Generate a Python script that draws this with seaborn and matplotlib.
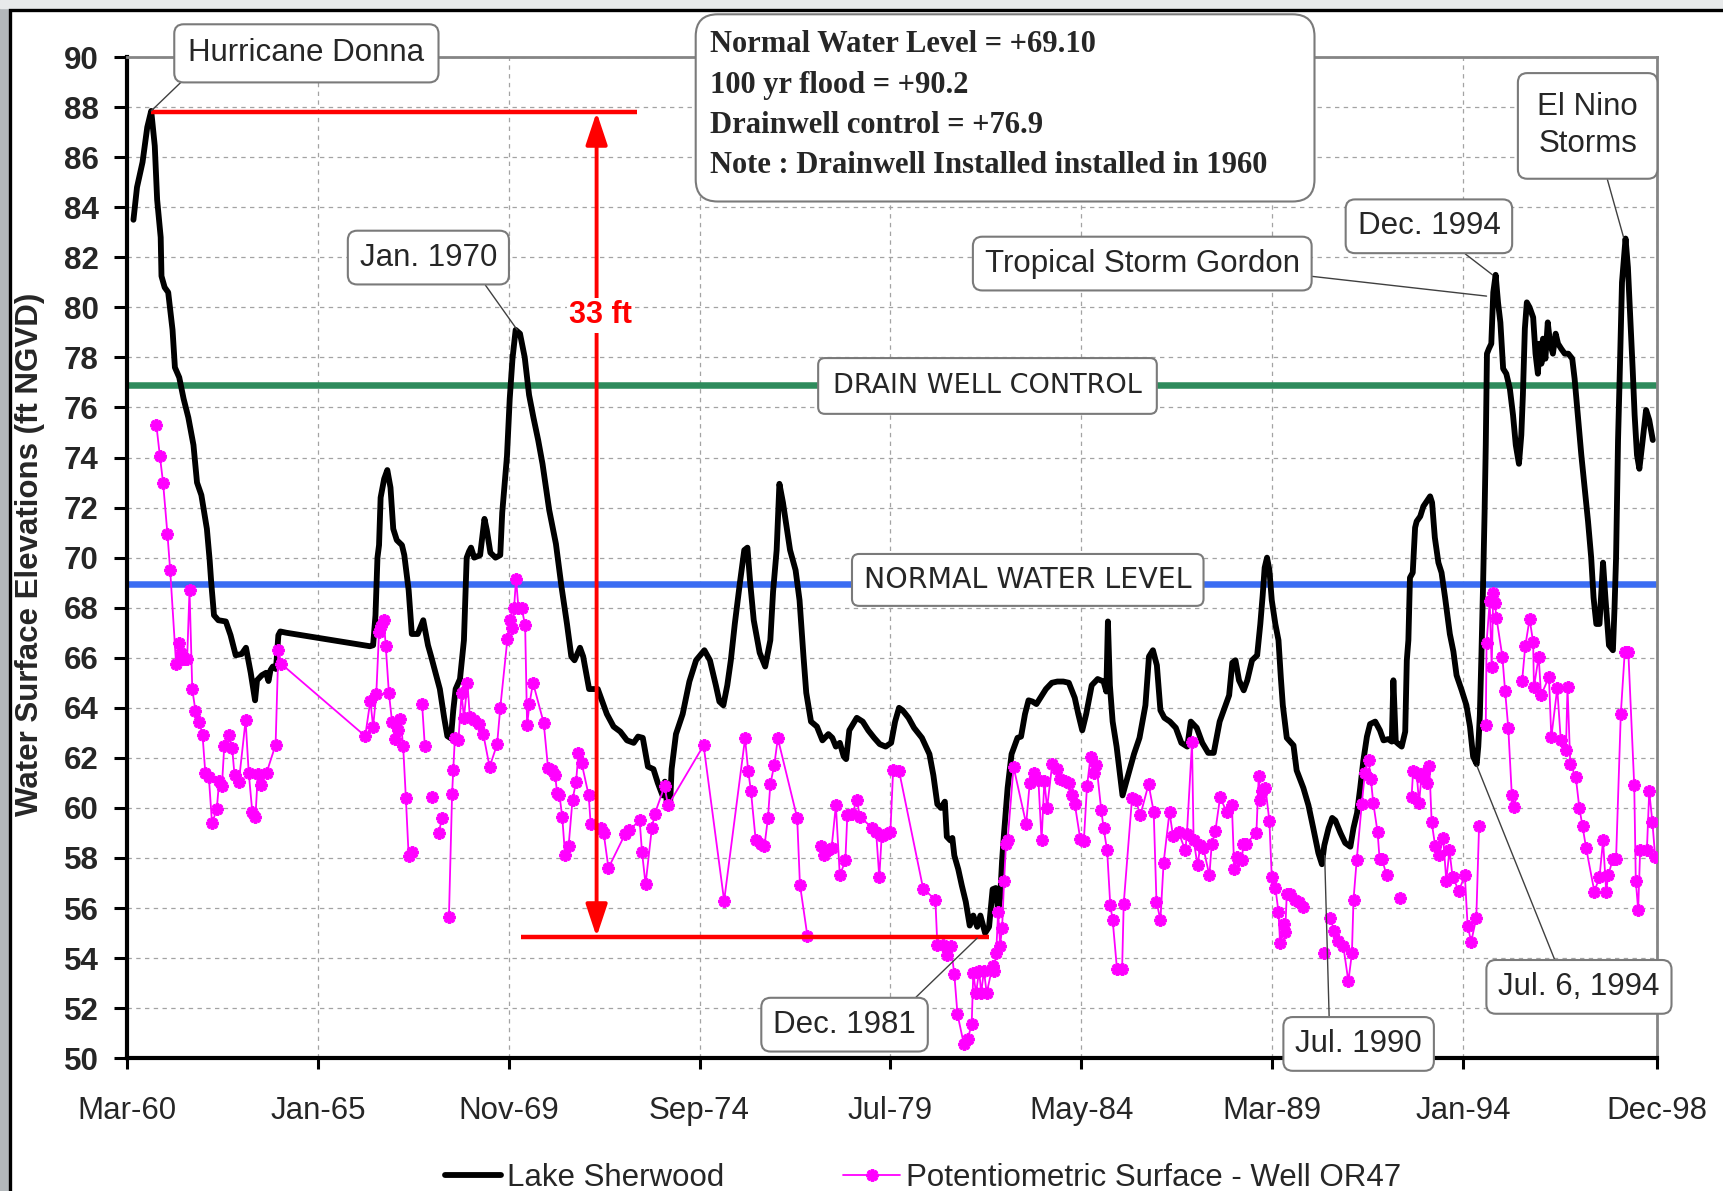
import numpy as np
import pandas as pd
import matplotlib
matplotlib.use("Agg")
import matplotlib.pyplot as plt
import seaborn as sns
from matplotlib.patches import FancyBboxPatch, Rectangle
from matplotlib.lines import Line2D

# ---------------------------------------------------------------- data
LAKE_YEARS = [
    1960.33, 1960.42, 1960.56, 1960.68, 1960.78, 1960.87, 1960.93, 1961.02, 1961.04, 1961.12,
    1961.21, 1961.32, 1961.38, 1961.49, 1961.60, 1961.72, 1961.85, 1961.94, 1962.05, 1962.19,
    1962.26, 1962.30, 1962.37, 1962.48, 1962.67, 1962.79, 1962.92, 1963.07, 1963.18, 1963.30,
    1963.41, 1963.46, 1963.58, 1963.69, 1963.75, 1963.80, 1963.86, 1963.94, 1964.00, 1964.05,
    1964.20, 1966.32, 1966.40, 1966.46, 1966.51, 1966.55, 1966.59, 1966.68, 1966.76, 1966.84,
    1966.91, 1967.00, 1967.13, 1967.19, 1967.30, 1967.38, 1967.53, 1967.67, 1967.79, 1967.87,
    1967.98, 1968.09, 1968.20, 1968.28, 1968.37, 1968.43, 1968.49, 1968.60, 1968.70, 1968.77,
    1968.83, 1968.88, 1968.96, 1969.11, 1969.22, 1969.28, 1969.37, 1969.50, 1969.62, 1969.67,
    1969.79, 1969.86, 1969.93, 1970.01, 1970.12, 1970.24, 1970.35, 1970.46, 1970.58, 1970.69,
    1970.86, 1971.03, 1971.17, 1971.31, 1971.42, 1971.50, 1971.64, 1971.72, 1971.87, 1972.09,
    1972.32, 1972.49, 1972.66, 1972.83, 1973.00, 1973.11, 1973.23, 1973.36, 1973.50, 1973.61,
    1973.73, 1973.79, 1973.85, 1973.92, 1973.96, 1974.07, 1974.24, 1974.41, 1974.58, 1974.79,
    1974.93, 1975.08, 1975.17, 1975.27, 1975.37, 1975.46, 1975.56, 1975.69, 1975.80, 1975.88,
    1975.95, 1976.04, 1976.19, 1976.33, 1976.46, 1976.53, 1976.62, 1976.69, 1976.78, 1976.96,
    1977.10, 1977.20, 1977.30, 1977.37, 1977.49, 1977.64, 1977.78, 1977.93, 1978.03, 1978.12,
    1978.22, 1978.32, 1978.38, 1978.46, 1978.65, 1978.80, 1978.94, 1979.09, 1979.23, 1979.38,
    1979.52, 1979.62, 1979.72, 1979.81, 1979.96, 1980.10, 1980.30, 1980.49, 1980.59, 1980.69,
    1980.78, 1980.88, 1980.93, 1981.02, 1981.07, 1981.12, 1981.22, 1981.31, 1981.41, 1981.51,
    1981.60, 1981.70, 1981.78, 1981.90, 1982.00, 1982.09, 1982.17, 1982.23, 1982.28, 1982.33,
    1982.38, 1982.47, 1982.57, 1982.72, 1982.81, 1982.91, 1983.00, 1983.10, 1983.20, 1983.30,
    1983.44, 1983.59, 1983.73, 1983.88, 1984.02, 1984.17, 1984.26, 1984.36, 1984.46, 1984.60,
    1984.75, 1984.90, 1984.97, 1985.01, 1985.06, 1985.13, 1985.23, 1985.38, 1985.52, 1985.67,
    1985.81, 1985.96, 1986.05, 1986.15, 1986.25, 1986.34, 1986.44, 1986.58, 1986.73, 1986.87,
    1987.02, 1987.11, 1987.26, 1987.40, 1987.55, 1987.69, 1987.84, 1987.99, 1988.08, 1988.16,
    1988.24, 1988.33, 1988.45, 1988.54, 1988.66, 1988.79, 1988.87, 1988.93, 1988.98, 1989.04,
    1989.10, 1989.16, 1989.25, 1989.33, 1989.39, 1989.44, 1989.54, 1989.71, 1989.79, 1989.96,
    1990.09, 1990.21, 1990.34, 1990.43, 1990.49, 1990.60, 1990.69, 1990.77, 1990.90, 1991.02,
    1991.15, 1991.23, 1991.32, 1991.40, 1991.48, 1991.57, 1991.65, 1991.78, 1991.90, 1991.99,
    1992.11, 1992.20, 1992.24, 1992.30, 1992.37, 1992.45, 1992.54, 1992.58, 1992.62, 1992.66,
    1992.73, 1992.79, 1992.83, 1992.92, 1993.00, 1993.17, 1993.22, 1993.29, 1993.38, 1993.46,
    1993.55, 1993.67, 1993.76, 1993.84, 1993.97, 1994.09, 1994.18, 1994.26, 1994.35, 1994.39,
    1994.43, 1994.47, 1994.51, 1994.55, 1994.58, 1994.61, 1994.66, 1994.72, 1994.77, 1994.83,
    1994.89, 1994.95, 1995.02, 1995.10, 1995.19, 1995.27, 1995.34, 1995.42, 1995.48, 1995.52,
    1995.57, 1995.62, 1995.69, 1995.78, 1995.84, 1995.90, 1995.94, 1995.99, 1996.03, 1996.09,
    1996.15, 1996.21, 1996.28, 1996.35, 1996.41, 1996.49, 1996.58, 1996.67, 1996.77, 1996.83,
    1996.91, 1997.00, 1997.08, 1997.17, 1997.25, 1997.31, 1997.38, 1997.46, 1997.55, 1997.61,
    1997.70, 1997.80, 1997.84, 1997.88, 1997.93, 1997.97, 1998.03, 1998.12, 1998.18, 1998.24,
    1998.30, 1998.35, 1998.41, 1998.47, 1998.54, 1998.64, 1998.72, 1998.81,
]
LAKE_LEVELS = [
    83.5, 84.8, 85.8, 87.2, 87.85, 86.45, 84.3, 82.8, 81.25, 80.8,
    80.6, 79.1, 77.6, 77.2, 76.35, 75.6, 74.5, 73.0, 72.5, 71.15,
    69.9, 69.0, 67.7, 67.5, 67.45, 66.9, 66.1, 66.15, 66.4, 65.4,
    64.3, 65.1, 65.3, 65.4, 65.07, 65.5, 65.65, 65.55, 66.9, 67.05,
    67.0, 66.46, 66.5, 67.7, 70.0, 70.5, 72.4, 73.15, 73.5, 72.8,
    71.15, 70.7, 70.5, 70.1, 68.7, 66.95, 66.95, 67.5, 66.5, 66.05,
    65.4, 64.75, 63.6, 62.87, 62.78, 63.9, 64.75, 65.15, 66.7, 70.0,
    70.25, 70.4, 70.0, 70.1, 71.55, 71.1, 70.2, 70.0, 70.1, 71.8,
    74.05, 76.35, 77.95, 79.1, 78.95, 78.0, 76.5, 75.6, 74.7, 73.75,
    71.9, 70.55, 68.85, 67.35, 66.05, 65.9, 66.4, 66.05, 64.75, 64.75,
    63.75, 63.25, 63.05, 62.7, 62.6, 62.85, 62.8, 61.65, 61.55, 61.0,
    60.5, 61.05, 60.0, 60.1, 61.55, 62.95, 63.75, 65.05, 65.9, 66.3,
    65.9, 64.9, 64.25, 64.1, 64.9, 65.9, 67.35, 69.0, 70.3, 70.4,
    69.0, 67.5, 66.2, 65.65, 66.7, 68.65, 70.3, 72.95, 72.2, 70.3,
    69.5, 68.3, 66.05, 64.6, 63.45, 63.25, 62.7, 62.95, 62.8, 62.45,
    62.6, 62.05, 61.95, 63.1, 63.6, 63.45, 63.1, 62.8, 62.55, 62.45,
    62.6, 63.45, 64.0, 63.9, 63.6, 63.2, 62.8, 62.15, 61.3, 60.15,
    60.0, 60.25, 58.85, 58.7, 58.8, 58.1, 57.55, 56.9, 56.25, 55.3,
    55.7, 55.25, 55.7, 55.0, 55.25, 56.75, 56.8, 55.85, 56.4, 57.9,
    59.0, 60.8, 62.15, 62.8, 62.85, 63.75, 64.3, 64.25, 64.15, 64.4,
    64.75, 65.0, 65.05, 65.05, 65.0, 64.4, 63.75, 63.1, 63.75, 64.9,
    65.15, 65.05, 64.65, 67.45, 64.9, 63.45, 62.45, 60.5, 61.3, 62.15,
    62.8, 64.1, 66.05, 66.3, 65.7, 63.9, 63.6, 63.45, 63.2, 62.6,
    62.45, 63.45, 63.2, 62.6, 62.2, 62.2, 63.45, 64.1, 64.5, 65.8,
    65.9, 65.1, 64.7, 65.1, 65.9, 66.1, 67.35, 68.5, 69.6, 70.0,
    69.5, 68.3, 67.35, 66.7, 65.2, 64.1, 62.8, 62.5, 61.5, 60.8,
    60.1, 59.2, 58.2, 57.75, 58.5, 59.2, 59.6, 59.5, 59.0, 58.6,
    58.45, 59.2, 59.8, 60.8, 61.9, 62.85, 63.35, 63.45, 63.1, 62.7,
    62.75, 62.65, 65.1, 62.65, 62.55, 62.45, 63.05, 65.9, 66.7, 69.2,
    69.4, 71.2, 71.45, 71.65, 72.05, 72.45, 72.2, 70.8, 69.8, 69.4,
    68.4, 66.95, 66.25, 65.3, 64.7, 64.1, 63.25, 62.05, 61.75, 62.45,
    63.7, 66.1, 68.8, 71.8, 74.5, 78.15, 78.35, 78.55, 80.6, 81.3,
    80.2, 79.4, 77.55, 77.35, 76.75, 75.7, 74.5, 73.75, 74.9, 76.5,
    79.15, 80.2, 80.0, 79.6, 78.15, 77.35, 78.55, 77.75, 78.75, 77.95,
    79.4, 78.55, 78.15, 78.95, 78.55, 78.35, 78.15, 78.15, 77.95, 77.15,
    75.7, 74.1, 72.85, 71.45, 70.0, 68.4, 67.35, 67.35, 69.8, 68.4,
    66.5, 66.3, 67.95, 70.0, 74.7, 77.15, 81.0, 82.75, 81.6, 79.6,
    77.55, 75.7, 74.1, 73.55, 74.5, 75.9, 75.5, 74.7,
]

# None marks a break in the well record (no connecting line)
WELL_YEARS = [
    1960.91, 1961.00, 1961.08, 1961.19, 1961.26, 1961.41, 1961.48, 1961.54, 1961.60, 1961.69,
    1961.75, 1961.82, 1961.90, 1962.00, 1962.08, 1962.15, 1962.24, 1962.32, 1962.44, 1962.50,
    1962.57, 1962.63, 1962.75, 1962.83, 1962.89, 1963.00, 1963.17, 1963.25, 1963.34, 1963.42,
    1963.48, 1963.57, 1963.70, 1963.93, 1964.00, 1964.07, 1966.20, 1966.33, 1966.40, 1966.48,
    1966.55, 1966.61, 1966.67, 1966.72, 1966.80, 1966.88, 1966.96, 1967.02, 1967.09, 1967.16,
    1967.23, 1967.30, 1967.38, None, 1967.64, 1967.71, None, 1967.89, None, 1968.06,
    1968.14, None, 1968.32, 1968.40, 1968.43, 1968.47, 1968.56, 1968.64, 1968.70, 1968.79,
    1968.85, 1968.96, 1969.08, 1969.19, 1969.35, 1969.54, 1969.62, 1969.80, 1969.87, 1969.92,
    1969.97, 1970.02, 1970.08, 1970.16, 1970.25, 1970.30, 1970.36, 1970.45, 1970.72, 1970.83,
    1970.92, 1971.01, 1971.06, 1971.12, 1971.19, 1971.26, 1971.35, 1971.45, 1971.54, 1971.60,
    1971.68, 1971.86, 1971.91, 1972.16, 1972.24, 1972.36, 1972.78, 1972.88, 1973.15, 1973.21,
    1973.30, 1973.46, 1973.53, 1973.78, 1973.87, 1974.77, 1975.29, 1975.82, 1975.90, 1975.97,
    1976.09, 1976.22, 1976.31, 1976.40, 1976.46, 1976.56, 1976.65, 1977.14, 1977.21, 1977.40,
    None, 1977.75, 1977.83, 1977.93, 1978.01, 1978.12, 1978.22, 1978.36, 1978.41, 1978.54,
    1978.65, 1978.73, 1979.04, 1979.14, 1979.22, 1979.28, 1979.38, 1979.50, 1979.57, 1979.72,
    1980.33, 1980.64, 1980.69, 1980.83, 1980.93, 1981.03, 1981.12, 1981.20, 1981.36, 1981.46,
    1981.56, 1981.60, 1981.67, 1981.75, 1981.80, 1981.87, 1981.94, 1982.09, 1982.13, 1982.18,
    1982.23, 1982.28, 1982.33, 1982.38, 1982.43, 1982.47, 1982.62, 1982.94, 1983.03, 1983.15,
    1983.25, 1983.33, 1983.40, 1983.47, 1983.60, 1983.73, 1983.80, 1983.92, 1984.02, 1984.10,
    1984.17, 1984.31, 1984.40, 1984.48, 1984.57, 1984.65, 1984.72, 1984.84, 1984.90, 1984.99,
    1985.07, 1985.13, 1985.24, 1985.37, 1985.41, 1985.62, 1985.72, 1985.83, 1986.04, 1986.17,
    1986.24, 1986.34, 1986.42, 1986.57, 1986.66, 1986.80, 1986.97, 1987.01, 1987.14, 1987.18,
    1987.28, 1987.35, 1987.43, 1987.58, 1987.64, 1987.73, 1987.85, 1988.02, 1988.15, 1988.21,
    1988.29, 1988.40, 1988.44, 1988.51, 1988.77, 1988.83, 1988.87, 1988.91, 1989.00, 1989.10,
    1989.16, 1989.25, 1989.33, 1989.37, 1989.46, 1989.50, 1989.54, 1989.62, 1989.75, 1989.84,
    1989.96, None, 1990.49, None, 1990.64, 1990.74, 1990.85, 1990.97, 1991.10, 1991.19,
    1991.23, 1991.31, 1991.44, 1991.52, 1991.61, 1991.67, 1991.73, 1991.84, 1991.89, 1991.95,
    1992.07, None, 1992.41, None, 1992.70, 1992.74, 1992.83, 1992.89, 1992.95, 1993.02,
    1993.08, 1993.15, 1993.21, 1993.30, 1993.40, 1993.50, 1993.58, 1993.66, 1993.74, 1993.90,
    1994.05, 1994.12, 1994.21, 1994.34, 1994.41, None, 1994.58, 1994.60, 1994.68, 1994.73,
    1994.77, 1994.81, 1994.85, 1995.00, 1995.07, 1995.15, 1995.24, 1995.30, None, 1995.50,
    1995.58, 1995.69, 1995.78, 1995.80, 1995.92, 1995.98, 1996.18, 1996.24, 1996.39, 1996.48,
    1996.61, 1996.65, 1996.72, 1996.86, 1996.95, 1997.03, 1997.12, 1997.33, 1997.46, 1997.55,
    1997.63, 1997.68, 1997.80, 1997.88, 1998.00, 1998.10, 1998.19, 1998.34, 1998.38, 1998.44,
    1998.49, 1998.66, 1998.72, 1998.80, 1998.87,
]
WELL_LEVELS = [
    75.3, 74.05, 73.0, 70.96, 69.5, 65.75, 66.57, 66.2, 65.97, 65.97,
    68.7, 64.74, 63.88, 63.44, 62.9, 61.4, 61.22, 59.39, 59.94, 61.07,
    60.86, 62.47, 62.93, 62.39, 61.31, 61.05, 63.5, 61.4, 59.84, 59.65,
    61.35, 60.9, 61.4, 62.52, 66.33, 65.76, 62.87, 64.29, 63.24, 64.55,
    67.03, 67.27, 67.5, 66.47, 64.58, 63.44, 62.77, 63.1, 63.57, 62.49,
    60.38, 58.08, 58.24, None, 64.16, 62.46, None, 60.43, None, 58.98,
    59.58, None, 55.63, 60.55, 61.53, 62.78, 62.7, 64.58, 63.6, 64.99,
    63.63, 63.5, 63.35, 62.95, 61.64, 62.54, 64.0, 66.73, 67.49, 67.2,
    68.0, 69.15, 68.0, 68.0, 67.3, 63.3, 64.16, 65.0, 63.4, 61.6,
    61.5, 61.3, 60.6, 60.5, 59.65, 58.13, 58.46, 60.33, 61.04, 62.2,
    61.8, 60.5, 59.36, 59.2, 58.98, 57.6, 58.95, 59.1, 59.5, 58.24,
    56.95, 59.2, 59.75, 60.86, 60.1, 62.5, 56.29, 62.78, 61.48, 60.66,
    58.7, 58.57, 58.46, 59.6, 60.94, 61.72, 62.78, 59.6, 56.94, 54.87,
    None, 58.46, 58.13, 58.3, 58.38, 60.1, 57.3, 57.9, 59.7, 59.76,
    60.33, 59.65, 59.2, 59.03, 57.23, 58.87, 58.95, 59.03, 61.5, 61.48,
    56.78, 56.33, 54.54, 54.54, 54.13, 54.5, 53.35, 51.76, 50.57, 50.78,
    51.35, 53.4, 52.6, 53.5, 52.6, 53.5, 52.6, 53.7, 53.5, 54.2,
    55.85, 54.5, 55.2, 57.07, 58.57, 58.7, 61.64, 59.36, 61.0, 61.4,
    61.1, 58.7, 61.07, 60.0, 61.77, 61.56, 61.15, 61.07, 61.0, 60.5,
    60.17, 58.75, 58.67, 60.86, 62.05, 61.4, 61.7, 59.93, 59.2, 58.3,
    56.12, 55.52, 53.56, 53.56, 56.17, 60.38, 60.3, 59.7, 60.95, 59.84,
    56.25, 55.52, 57.8, 59.84, 58.86, 59.03, 58.3, 58.95, 62.62, 58.73,
    57.7, 58.5, 58.38, 57.3, 58.57, 59.06, 60.42, 59.84, 60.1, 57.56,
    58.05, 57.9, 58.54, 58.57, 59.0, 61.28, 60.33, 60.66, 60.8, 59.48,
    57.23, 56.82, 55.85, 54.62, 55.35, 55.03, 56.58, 56.58, 56.33, 56.25,
    56.05, None, 54.21, None, 55.6, 55.1, 54.7, 54.5, 53.07, 54.2,
    56.33, 57.9, 60.17, 61.4, 61.9, 61.15, 60.2, 59.03, 57.97, 57.97,
    57.3, None, 56.42, None, 60.42, 61.48, 61.4, 60.2, 61.23, 61.4,
    61.0, 61.67, 59.43, 58.46, 58.13, 58.8, 57.1, 58.3, 57.23, 56.7,
    57.3, 55.3, 54.65, 55.6, 59.27, None, 63.3, 66.6, 68.25, 65.64,
    68.58, 68.17, 67.6, 66.05, 64.66, 63.2, 60.5, 60.04, None, 65.07,
    66.46, 67.55, 66.62, 64.82, 66.05, 64.5, 65.23, 62.82, 64.78, 62.7,
    62.3, 64.82, 61.77, 61.23, 60.0, 59.27, 58.41, 56.66, 57.23, 58.7,
    56.66, 57.3, 57.97, 57.97, 63.76, 66.24, 66.24, 60.9, 57.07, 55.93,
    58.3, 58.3, 60.66, 59.43, 58.05,
]

TICK_YEARS = [1960 + 2 / 12, 1965.0, 1969 + 10 / 12, 1974 + 8 / 12, 1979.5,
              1984 + 4 / 12, 1989 + 2 / 12, 1994.0, 1998 + 11 / 12]
TICK_LABELS = ["Mar-60", "Jan-65", "Nov-69", "Sep-74", "Jul-79",
               "May-84", "Mar-89", "Jan-94", "Dec-98"]
Y_TICKS = list(range(50, 92, 2))

SERIES_NAMES = ["Lake Sherwood", "Potentiometric Surface - Well OR47"]
NORMAL_LEVEL = 68.95      # drawn level of "Normal Water Level"
DRAIN_CONTROL = 76.9      # drain well control elevation
PEAK_LEVEL = 87.8         # Hurricane Donna peak marker line
LOW_LEVEL = 54.85         # Dec. 1981 low marker line
INFO_LINES = ["Normal Water Level = +69.10", "100 yr flood = +90.2",
              "Drainwell control = +76.9", "Note : Drainwell Installed installed in 1960"]

# ---------------------------------------------------------------- frames
lake = pd.DataFrame({"year": LAKE_YEARS, "level": LAKE_LEVELS})
rows, seg = [], 0
for yr, lv in zip(WELL_YEARS, WELL_LEVELS):
    if yr is None:
        seg += 1
        continue
    rows.append((yr, lv, seg))
well = pd.DataFrame(rows, columns=["year", "level", "segment"])

# ---------------------------------------------------------------- style
sns.set_style("white")
plt.rcParams["font.family"] = ["Liberation Sans", "DejaVu Sans"]

W, H = 1723, 1191
fig = plt.figure(figsize=(W / 100, H / 100), dpi=100, facecolor="white")

# outer frame (screenshot border)
fig.add_artist(Rectangle((0, 0), 0.075, H / 100, transform=fig.dpi_scale_trans,
                         color="#b3b8bb", zorder=-5))
fig.add_artist(Rectangle((0, H / 100 - 0.075), W / 100, 0.075, transform=fig.dpi_scale_trans,
                         color="#e8eaeb", zorder=-5))
fig.add_artist(Rectangle((0.095, -1.0), 30, H / 100 - 0.095 + 1.0, transform=fig.dpi_scale_trans,
                         fill=False, ec="black", lw=2.4, zorder=-4))

ax_l, ax_r, ax_t, ax_b = 127, 1657, 57.1, 1058.2
ax = fig.add_axes([ax_l / W, 1 - ax_b / H, (ax_r - ax_l) / W, (ax_b - ax_t) / H])
ax.set_facecolor("white")

XMIN, XMAX = TICK_YEARS[0], TICK_YEARS[-1]
ax.set_xlim(XMIN, XMAX)
ax.set_ylim(50, 90)

# grid
ax.set_axisbelow(True)
ax.grid(True, ls=(0, (3.5, 3.5)), color="#a3a3a3", lw=0.9)

# reference levels
ax.axhline(DRAIN_CONTROL, color="#2e8b5c", lw=4.7, zorder=2)
ax.axhline(NORMAL_LEVEL, color="#3a6cf2", lw=4.7, zorder=2)

# series
MAGENTA = "#ff00ff"
MARKER = dict(marker=(8, 1, 0), markersize=8.5, mec=MAGENTA, mfc=MAGENTA, mew=2.4)
sns.lineplot(data=lake, x="year", y="level", color="black", lw=4.2,
             estimator=None, legend=False, ax=ax, zorder=3)
sns.lineplot(data=well, x="year", y="level", units="segment", estimator=None,
             color=MAGENTA, lw=1.3, legend=False, ax=ax, zorder=4, **MARKER)

# red range markers
peak_year = LAKE_YEARS[int(np.argmax(LAKE_LEVELS))]
ARROW_YEAR = 1972.06
ax.hlines(PEAK_LEVEL, peak_year, 1973.09, color="red", lw=3.2, zorder=5)
ax.hlines(LOW_LEVEL, 1970.14, 1982.0, color="red", lw=3.2, zorder=5)
ax.annotate("", xy=(ARROW_YEAR, PEAK_LEVEL), xytext=(ARROW_YEAR, LOW_LEVEL),
            arrowprops=dict(arrowstyle="<|-|>,head_length=0.9,head_width=0.3",
                            color="red", lw=2.8, shrinkA=0, shrinkB=0, mutation_scale=22),
            zorder=5)
ax.text(1972.15, 79.68, "33 ft", color="red", fontsize=22, fontweight="bold",
        ha="center", va="center", zorder=6,
        bbox=dict(fc="white", ec="none", pad=1.5))

# axes styling
ax.set_xticks(TICK_YEARS, TICK_LABELS)
ax.set_yticks(Y_TICKS)
ax.tick_params(axis="x", direction="out", length=8, width=2.2, pad=19, labelsize=22.5,
               color="black", bottom=True)
ax.tick_params(axis="y", direction="out", length=9.4, width=2.2, pad=11, labelsize=22.5,
               color="black", left=True)
for lab in ax.get_yticklabels():
    lab.set_fontweight("bold")
for side in ("left", "bottom"):
    ax.spines[side].set_color("black")
    ax.spines[side].set_linewidth(3.0)
for side in ("top", "right"):
    ax.spines[side].set_color("#858585")
    ax.spines[side].set_linewidth(2.0)
ax.set_xlabel("")
ax.set_ylabel("Water Surface Elevations (ft NGVD)", fontsize=22.5, fontweight="bold")
ax.yaxis.set_label_coords((29.7 - ax_l) / (ax_r - ax_l), 0.503)
ax.yaxis.label.set_va("center")

# ---------------------------------------------------------------- call-outs
BOX = dict(boxstyle="round,pad=0.38,rounding_size=0.3", fc="white", ec="#7a7a7a", lw=1.5)


def callout(text, pos, target=None, relpos=(0.5, 0.5), box=BOX, **kw):
    props = None
    if target is not None:
        props = dict(arrowstyle="-", color="#404040", lw=1.0, relpos=relpos,
                     shrinkA=0, shrinkB=0)
    ax.annotate(text, xy=target if target is not None else pos, xytext=pos,
                textcoords="data", ha="center", va="center", fontsize=22.5,
                bbox=box, arrowprops=props, zorder=10, annotation_clip=False, **kw)


callout("Hurricane Donna", (1964.71, 90.15), (peak_year, PEAK_LEVEL + 0.05), relpos=(0.03, 0),
        box=dict(BOX, boxstyle="round,pad=0.45,rounding_size=0.3"))
callout("Jan. 1970", (1967.80, 81.99), (1970.05, 79.1), relpos=(0.85, 0))
callout("Tropical Storm Gordon", (1985.88, 81.75), (1994.6, 80.45), relpos=(1.0, 0.12))
callout("Dec. 1994", (1993.14, 83.24), (1994.75, 81.3), relpos=(0.64, 0))
callout("El Nino\nStorms", (1997.16, 87.25), (1998.07, 82.8), relpos=(0.64, 0),
        box=dict(BOX, boxstyle="round,pad=0.62,rounding_size=0.3"), linespacing=1.3)
callout("Dec. 1981", (1978.34, 51.34), (1981.7, 54.8), relpos=(0.91, 1))
callout("Jul. 1990", (1991.36, 50.57), (1990.5, 58.1), relpos=(0.27, 1))
callout("Jul. 6, 1994", (1996.94, 52.85), (1994.35, 61.7), relpos=(0.38, 1))

LEVEL_BOX = dict(boxstyle="round,pad=0.55,rounding_size=0.25", fc="white", ec="#7a7a7a", lw=1.5)
ax.text(1981.96, 76.86, "DRAIN WELL CONTROL", fontsize=19.5, family=["DejaVu Sans"],
        ha="center", va="center", bbox=LEVEL_BOX, zorder=10)
ax.text(1982.98, 69.11, "NORMAL WATER LEVEL", fontsize=20.5, family=["DejaVu Sans"],
        ha="center", va="center", bbox=dict(LEVEL_BOX, boxstyle="round,pad=0.42,rounding_size=0.25"),
        zorder=10)


# information box (figure inches)
def inch_y(px):
    return (H - px) / 100


fig.add_artist(FancyBboxPatch((6.957, inch_y(201.5)), 13.145 - 6.957, inch_y(14.3) - inch_y(201.5),
                              boxstyle="round,pad=0,rounding_size=0.22",
                              transform=fig.dpi_scale_trans, fc="white", ec="#7a7a7a",
                              lw=1.5, zorder=20))
for i, line in enumerate(INFO_LINES):
    fig.text(7.098, inch_y(52.3 + 40.4 * i), line, transform=fig.dpi_scale_trans,
             ha="left", va="baseline", fontsize=22, fontweight="bold",
             family=["Liberation Serif", "DejaVu Serif"], zorder=21)

# legend
handles = [Line2D([], [], color="black", lw=4.2),
           Line2D([], [], color=MAGENTA, lw=1.3, **MARKER)]
fig.legend(handles, SERIES_NAMES, loc="center", bbox_to_anchor=(923 / W, 13 / H), ncol=2,
           frameon=False, fontsize=22.5, handlelength=1.8, handletextpad=0.2,
           columnspacing=3.8)

fig.savefig("out.png", dpi=100, facecolor="white")
